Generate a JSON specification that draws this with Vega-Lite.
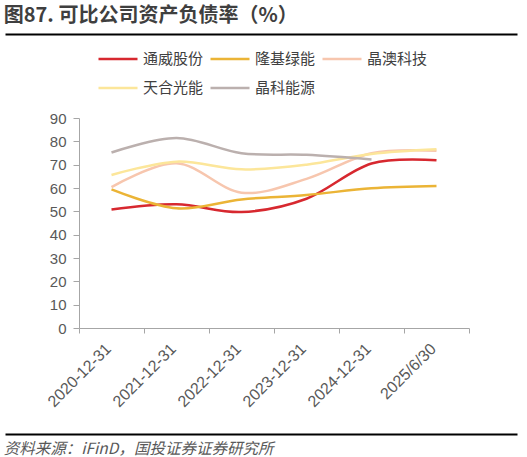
{
  "$schema": "https://vega.github.io/schema/vega-lite/v6.json",
  "padding": {"left": 2, "top": 5, "right": 5, "bottom": 2},
  "background": "white",
  "config": {
    "view": {"stroke": null},
    "font": "Noto Sans CJK SC"
  },
  "spacing": 1,
  "resolve": {"scale": {"color": "independent"}, "legend": {"color": "independent"}},
  "vconcat": [
    {
      "width": 438,
      "height": 1,
      "title": {
        "text": "图87. 可比公司资产负债率（%）",
        "anchor": "start",
        "frame": "bounds",
        "dx": 1.5,
        "font": "Noto Sans CJK SC",
        "fontSize": 20,
        "fontWeight": "bold",
        "color": "#3f3f3f",
        "offset": 5
      },
      "data": {"values": [{"v": 0}]},
      "mark": {"type": "point", "opacity": 0},
      "encoding": {
        "x": {
          "field": "v",
          "type": "quantitative",
          "scale": {"domain": [0, 1], "range": [-74, 438]},
          "axis": {"title": null, "ticks": false, "labels": false, "grid": false, "domainColor": "#000000", "domainWidth": 2}
        }
      }
    },
    {
      "spacing": 21,
      "resolve": {"scale": {"color": "independent"}, "legend": {"color": "independent"}},
      "vconcat": [
        {
          "width": 390,
          "height": 210,
          "data": {
            "values": [
              {"date": "2020-12-31", "company": "通威股份", "value": 50.8},
              {"date": "2021-12-31", "company": "通威股份", "value": 53.0},
              {"date": "2022-12-31", "company": "通威股份", "value": 49.7},
              {"date": "2023-12-31", "company": "通威股份", "value": 55.4},
              {"date": "2024-12-31", "company": "通威股份", "value": 70.5},
              {"date": "2025/6/30", "company": "通威股份", "value": 71.9},
              {"date": "2020-12-31", "company": "隆基绿能", "value": 59.4},
              {"date": "2021-12-31", "company": "隆基绿能", "value": 51.3},
              {"date": "2022-12-31", "company": "隆基绿能", "value": 55.1},
              {"date": "2023-12-31", "company": "隆基绿能", "value": 57.0},
              {"date": "2024-12-31", "company": "隆基绿能", "value": 59.9},
              {"date": "2025/6/30", "company": "隆基绿能", "value": 60.9},
              {"date": "2020-12-31", "company": "晶澳科技", "value": 60.4},
              {"date": "2021-12-31", "company": "晶澳科技", "value": 70.6},
              {"date": "2022-12-31", "company": "晶澳科技", "value": 58.0},
              {"date": "2023-12-31", "company": "晶澳科技", "value": 63.9},
              {"date": "2024-12-31", "company": "晶澳科技", "value": 74.9},
              {"date": "2025/6/30", "company": "晶澳科技", "value": 76.0},
              {"date": "2020-12-31", "company": "天合光能", "value": 65.6},
              {"date": "2021-12-31", "company": "天合光能", "value": 71.3},
              {"date": "2022-12-31", "company": "天合光能", "value": 68.0},
              {"date": "2023-12-31", "company": "天合光能", "value": 70.0},
              {"date": "2024-12-31", "company": "天合光能", "value": 74.6},
              {"date": "2025/6/30", "company": "天合光能", "value": 76.6},
              {"date": "2020-12-31", "company": "晶科能源", "value": 75.2},
              {"date": "2021-12-31", "company": "晶科能源", "value": 81.4},
              {"date": "2022-12-31", "company": "晶科能源", "value": 74.9},
              {"date": "2023-12-31", "company": "晶科能源", "value": 74.2},
              {"date": "2024-12-31", "company": "晶科能源", "value": 72.2}
            ]
          },
          "mark": {"type": "line", "interpolate": "cardinal", "strokeWidth": 2.5},
          "encoding": {
            "x": {
              "field": "date",
              "type": "ordinal",
              "scale": {"type": "band", "paddingInner": 0, "paddingOuter": 0},
              "axis": {
                "title": null,
                "labelAngle": -45,
                "labelAlign": "right",
                "labelBaseline": "middle",
                "bandPosition": 1,
                "tickExtra": true,
                "labelOffset": -3,
                "tickSize": 5,
                "labelPadding": 13,
                "domainColor": "#a6a6a6",
                "tickColor": "#a6a6a6",
                "labelFont": "Liberation Sans",
                "labelFontSize": 16,
                "labelColor": "#595959"
              }
            },
            "y": {
              "field": "value",
              "type": "quantitative",
              "scale": {"domain": [0, 90], "nice": false},
              "axis": {
                "title": null,
                "values": [0, 10, 20, 30, 40, 50, 60, 70, 80, 90],
                "grid": false,
                "tickSize": 6,
                "labelPadding": 7,
                "domainColor": "#a6a6a6",
                "tickColor": "#a6a6a6",
                "labelFont": "Liberation Sans",
                "labelFontSize": 15,
                "labelColor": "#595959",
                "minExtent": 74
              }
            },
            "color": {
              "field": "company",
              "type": "nominal",
              "scale": {
                "domain": ["通威股份", "隆基绿能", "晶澳科技", "天合光能", "晶科能源"],
                "range": ["#d7282f", "#ebb436", "#f7c6ae", "#fce69a", "#bbb0ae"]
              },
              "legend": {
                "orient": "none",
                "legendX": 18,
                "legendY": -80,
                "direction": "horizontal",
                "columns": 3,
                "title": null,
                "symbolType": "stroke",
                "symbolSize": 1521,
                "symbolStrokeWidth": 2.5,
                "labelFont": "Noto Sans CJK SC",
                "labelFontSize": 15,
                "labelColor": "#404040",
                "labelOffset": 4,
                "columnPadding": 1,
                "rowPadding": -1,
                "labelLimit": 200
              }
            }
          }
        },
        {
          "width": 438,
          "height": 1,
          "title": {
            "text": "资料来源：iFinD，国投证券证券研究所",
            "orient": "bottom",
            "anchor": "start",
            "frame": "bounds",
            "dx": 1.5,
            "font": "Noto Sans CJK SC",
            "fontSize": 15.5,
            "fontStyle": "italic",
            "fontWeight": "normal",
            "color": "#595959",
            "offset": 5
          },
          "data": {"values": [{"v": 0}]},
          "mark": {"type": "point", "opacity": 0},
          "encoding": {
            "x": {
              "field": "v",
              "type": "quantitative",
              "scale": {"domain": [0, 1], "range": [-74, 438]},
              "axis": {"orient": "top", "title": null, "ticks": false, "labels": false, "grid": false, "domainColor": "#000000", "domainWidth": 2}
            }
          }
        }
      ]
    }
  ]
}
